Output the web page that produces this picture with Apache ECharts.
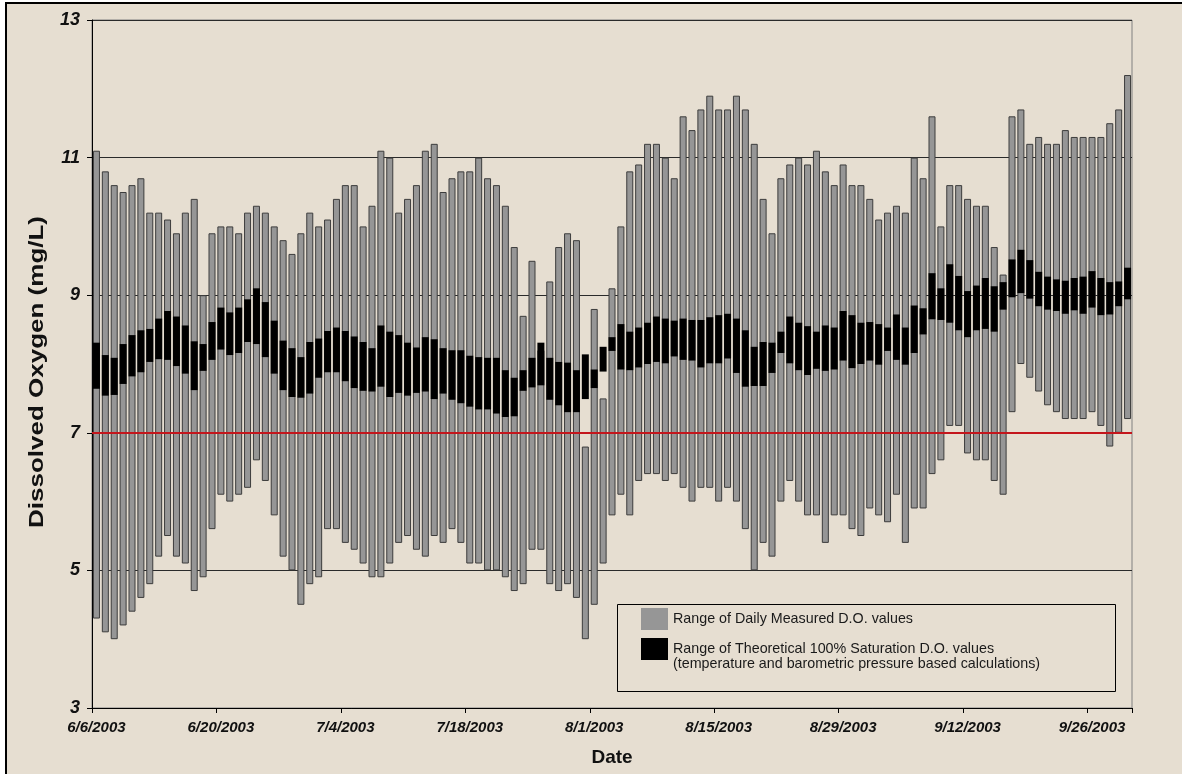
<!DOCTYPE html>
<html>
<head>
<meta charset="utf-8">
<title>Dissolved Oxygen, June - September 2003</title>
<script src="https://cdn.jsdelivr.net/npm/echarts@6/dist/echarts.min.js"></script>
<style>
  html, body { margin: 0; padding: 0; background: #ffffff; overflow: hidden; }
  #frame {
    position: absolute; left: 5px; top: 2px; width: 1200px; height: 800px;
    border-left: 2px solid #000; border-top: 2px solid #000;
    background: #e6ded1;
  }
  #chart { position: absolute; left: 0; top: 0; width: 1182px; height: 774px; }
</style>
</head>
<body>
<div id="frame"></div>
<div id="chart"></div>
<script>
// Daily dissolved oxygen, 6/6/2003 - 9/30/2003 (one entry per day)
const startDate = new Date(2003, 5, 6);
const dayCount = 117;

// Measured D.O. range per day (mg/L)
const measuredLow = [
  4.3, 4.1, 4.0, 4.2, 4.4, 4.6, 4.8, 5.2, 5.5, 5.2, 5.1, 4.7, 4.9, 5.6, 6.1, 6.0, 6.1, 6.2, 6.6, 6.3,
  5.8, 5.2, 5.0, 4.5, 4.8, 4.9, 5.6, 5.6, 5.4, 5.3, 5.1, 4.9, 4.9, 5.1, 5.4, 5.5, 5.3, 5.2, 5.5, 5.4,
  5.6, 5.4, 5.1, 5.1, 5.0, 5.0, 4.9, 4.7, 4.8, 5.3, 5.3, 4.8, 4.7, 4.8, 4.6, 4.0, 4.5, 5.1, 5.8, 6.1,
  5.8, 6.3, 6.4, 6.4, 6.3, 6.4, 6.2, 6.0, 6.2, 6.2, 6.0, 6.2, 6.0, 5.6, 5.0, 5.4, 5.2, 6.0, 6.3, 6.0,
  5.8, 5.8, 5.4, 5.8, 5.8, 5.6, 5.5, 5.9, 5.8, 5.7, 6.1, 5.4, 5.9, 5.9, 6.4, 6.6, 7.1, 7.1, 6.7, 6.6,
  6.6, 6.3, 6.1, 7.3, 8.0, 7.8, 7.6, 7.4, 7.3, 7.2, 7.2, 7.2, 7.3, 7.1, 6.8, 7.0, 7.2
];
const measuredHigh = [
  11.1, 10.8, 10.6, 10.5, 10.6, 10.7, 10.2, 10.2, 10.1, 9.9, 10.2, 10.4, 9.0, 9.9, 10.0, 10.0, 9.9, 10.2, 10.3, 10.2,
  10.0, 9.8, 9.6, 9.9, 10.2, 10.0, 10.1, 10.4, 10.6, 10.6, 10.0, 10.3, 11.1, 11.0, 10.2, 10.4, 10.6, 11.1, 11.2, 10.5,
  10.7, 10.8, 10.8, 11.0, 10.7, 10.6, 10.3, 9.7, 8.7, 9.5, 8.2, 9.2, 9.7, 9.9, 9.8, 6.8, 8.8, 7.5, 9.1, 10.0,
  10.8, 10.9, 11.2, 11.2, 11.0, 10.7, 11.6, 11.4, 11.7, 11.9, 11.7, 11.7, 11.9, 11.7, 11.2, 10.4, 9.9, 10.7, 10.9, 11.0,
  10.9, 11.1, 10.8, 10.6, 10.9, 10.6, 10.6, 10.4, 10.1, 10.2, 10.3, 10.2, 11.0, 10.7, 11.6, 10.0, 10.6, 10.6, 10.4, 10.3,
  10.3, 9.7, 9.3, 11.6, 11.7, 11.2, 11.3, 11.2, 11.2, 11.4, 11.3, 11.3, 11.3, 11.3, 11.5, 11.7, 12.2
];

// Theoretical 100% saturation D.O. range per day (mg/L)
const saturationLow = [
  7.64, 7.54, 7.55, 7.71, 7.82, 7.88, 8.03, 8.07, 8.06, 7.97, 7.86, 7.62, 7.90, 8.06, 8.21, 8.13, 8.16, 8.32, 8.29, 8.10,
  7.86, 7.62, 7.52, 7.51, 7.57, 7.80, 7.88, 7.88, 7.75, 7.65, 7.61, 7.60, 7.67, 7.52, 7.58, 7.54, 7.58, 7.60, 7.49, 7.57,
  7.48, 7.43, 7.38, 7.34, 7.34, 7.28, 7.23, 7.24, 7.61, 7.66, 7.69, 7.48, 7.40, 7.30, 7.30, 7.49, 7.65, 7.89, 8.19, 7.92,
  7.91, 7.95, 8.00, 8.03, 8.01, 8.11, 8.06, 8.05, 7.95, 8.01, 8.01, 8.08, 7.87, 7.67, 7.68, 7.68, 7.87, 8.16, 8.01, 7.91,
  7.84, 7.93, 7.90, 7.92, 8.05, 7.94, 8.00, 8.05, 7.99, 8.19, 8.06, 7.99, 8.16, 8.43, 8.65, 8.64, 8.60, 8.49, 8.39, 8.49,
  8.51, 8.47, 8.79, 8.97, 9.03, 8.95, 8.84, 8.79, 8.77, 8.73, 8.78, 8.73, 8.82, 8.71, 8.72, 8.84, 8.94
];
const saturationHigh = [
  8.31, 8.13, 8.09, 8.29, 8.42, 8.49, 8.51, 8.66, 8.77, 8.69, 8.56, 8.33, 8.29, 8.61, 8.82, 8.75, 8.82, 8.94, 9.10, 8.90,
  8.63, 8.34, 8.23, 8.10, 8.32, 8.37, 8.48, 8.53, 8.48, 8.40, 8.32, 8.23, 8.56, 8.47, 8.42, 8.31, 8.24, 8.39, 8.36, 8.23,
  8.20, 8.20, 8.12, 8.10, 8.09, 8.09, 7.91, 7.80, 7.91, 8.09, 8.31, 8.09, 8.03, 8.02, 7.91, 8.14, 7.92, 8.25, 8.39, 8.58,
  8.47, 8.53, 8.60, 8.69, 8.66, 8.63, 8.66, 8.64, 8.64, 8.68, 8.71, 8.73, 8.66, 8.49, 8.25, 8.32, 8.31, 8.47, 8.69, 8.60,
  8.55, 8.47, 8.56, 8.53, 8.77, 8.71, 8.60, 8.61, 8.58, 8.53, 8.72, 8.53, 8.85, 8.81, 9.32, 9.10, 9.45, 9.28, 9.06, 9.14,
  9.25, 9.13, 9.19, 9.52, 9.66, 9.51, 9.34, 9.27, 9.23, 9.21, 9.25, 9.27, 9.35, 9.25, 9.19, 9.20, 9.40
];

// Reference level drawn across the plot
const standardLevel = 7;

// Y axis: 3 to 13 mg/L, labelled every 2
const yMin = 3, yMax = 13, yStep = 2;

const yTitle = 'Dissolved Oxygen (mg/L)';
const measuredName = 'Range of Daily Measured D.O. values';
const saturationName = 'Range of Theoretical 100% Saturation D.O. values';
const saturationNote = '(temperature and barometric pressure based calculations)';

// Date categories, m/d/yyyy
const dates = [];
for (let i = 0; i < dayCount; i++) {
  const d = new Date(startDate.getFullYear(), startDate.getMonth(), startDate.getDate() + i);
  dates.push((d.getMonth() + 1) + '/' + d.getDate() + '/' + d.getFullYear());
}

const span = (lo, hi) => hi.map((h, i) => +(h - lo[i]).toFixed(3));

const FONT = 'Liberation Sans, Arial, sans-serif';
const chart = echarts.init(document.getElementById('chart'), null, { renderer: 'canvas' });

const baseStyle = { color: 'rgba(0,0,0,0)', borderWidth: 0 };

chart.setOption({
  backgroundColor: 'transparent',
  animation: false,
  textStyle: { fontFamily: FONT },
  grid: {
    left: 92, right: 50, top: 20, bottom: 66,
    show: true, borderColor: '#808080', borderWidth: 1, backgroundColor: 'transparent'
  },
  legend: {
    orient: 'vertical',
    left: 641, top: 608,
    padding: 0,
    itemWidth: 27, itemHeight: 22, itemGap: 8,
    icon: 'rect',
    selectedMode: false,
    textStyle: { fontSize: 14.3, color: '#1a1a1a', fontFamily: FONT },
    data: [
      { name: measuredName, itemStyle: { color: '#969696', borderWidth: 0 } },
      { name: saturationName, itemStyle: { color: '#000000', borderWidth: 0 } }
    ]
  },
  graphic: [
    // legend frame
    { type: 'rect', left: 615, top: 602, shape: { width: 498, height: 87 },
      style: { fill: 'none', stroke: '#000', lineWidth: 1 }, silent: true, z: 100 },
    // second line of the saturation legend entry
    { type: 'text', x: 673, y: 664, silent: true, z: 100,
      style: { text: saturationNote, font: '14.3px ' + FONT, fill: '#1a1a1a',
               verticalAlign: 'middle', align: 'left' } },
    // y axis title, set in a wide bold face running bottom to top
    { type: 'text', x: 37, y: 372, rotation: Math.PI / 2, scaleX: 1.3, silent: true, z: 100,
      style: { text: yTitle, font: 'bold 20px ' + FONT, fill: '#111',
               align: 'center', verticalAlign: 'middle' } }
  ],
  xAxis: {
    type: 'category',
    data: dates,
    boundaryGap: true,
    name: 'Date',
    nameLocation: 'middle',
    nameGap: 40,
    nameTextStyle: { fontSize: 19, fontWeight: 'bold', color: '#111' },
    axisLine: { lineStyle: { color: '#000', width: 1 } },
    axisTick: { show: true, interval: 13, length: 5, lineStyle: { color: '#000' } },
    axisLabel: {
      interval: 13, margin: 12,
      fontSize: 15, fontWeight: 'bold', fontStyle: 'italic', color: '#111'
    },
    splitLine: { show: false }
  },
  yAxis: {
    type: 'value',
    min: yMin, max: yMax, interval: yStep,
    axisLine: { show: true, lineStyle: { color: '#000', width: 1 } },
    axisTick: { show: true, length: 5, lineStyle: { color: '#000' } },
    axisLabel: { margin: 12, fontSize: 18, fontWeight: 'bold', fontStyle: 'italic', color: '#111' },
    splitLine: { show: true, lineStyle: { color: '#2a2a2a', width: 1 } }
  },
  series: [
    { name: 'measuredBase', type: 'bar', stack: 'measured', data: measuredLow,
      itemStyle: baseStyle, silent: true, barWidth: 7, barGap: '-100%' },
    { name: measuredName, type: 'bar', stack: 'measured', data: span(measuredLow, measuredHigh),
      itemStyle: { color: '#969696', borderColor: '#3c3c3c', borderWidth: 1 },
      barWidth: 7, barGap: '-100%' },
    { name: 'saturationBase', type: 'bar', stack: 'saturation', data: saturationLow,
      itemStyle: baseStyle, silent: true, barWidth: 7, barGap: '-100%' },
    { name: saturationName, type: 'bar', stack: 'saturation', data: span(saturationLow, saturationHigh),
      itemStyle: { color: '#000000' }, barWidth: 7, barGap: '-100%',
      markLine: {
        silent: true, symbol: 'none', animation: false,
        label: { show: false },
        lineStyle: { color: '#c4161c', width: 2, type: 'solid' },
        data: [{ yAxis: standardLevel }]
      }
    }
  ]
});
</script>
</body>
</html>
